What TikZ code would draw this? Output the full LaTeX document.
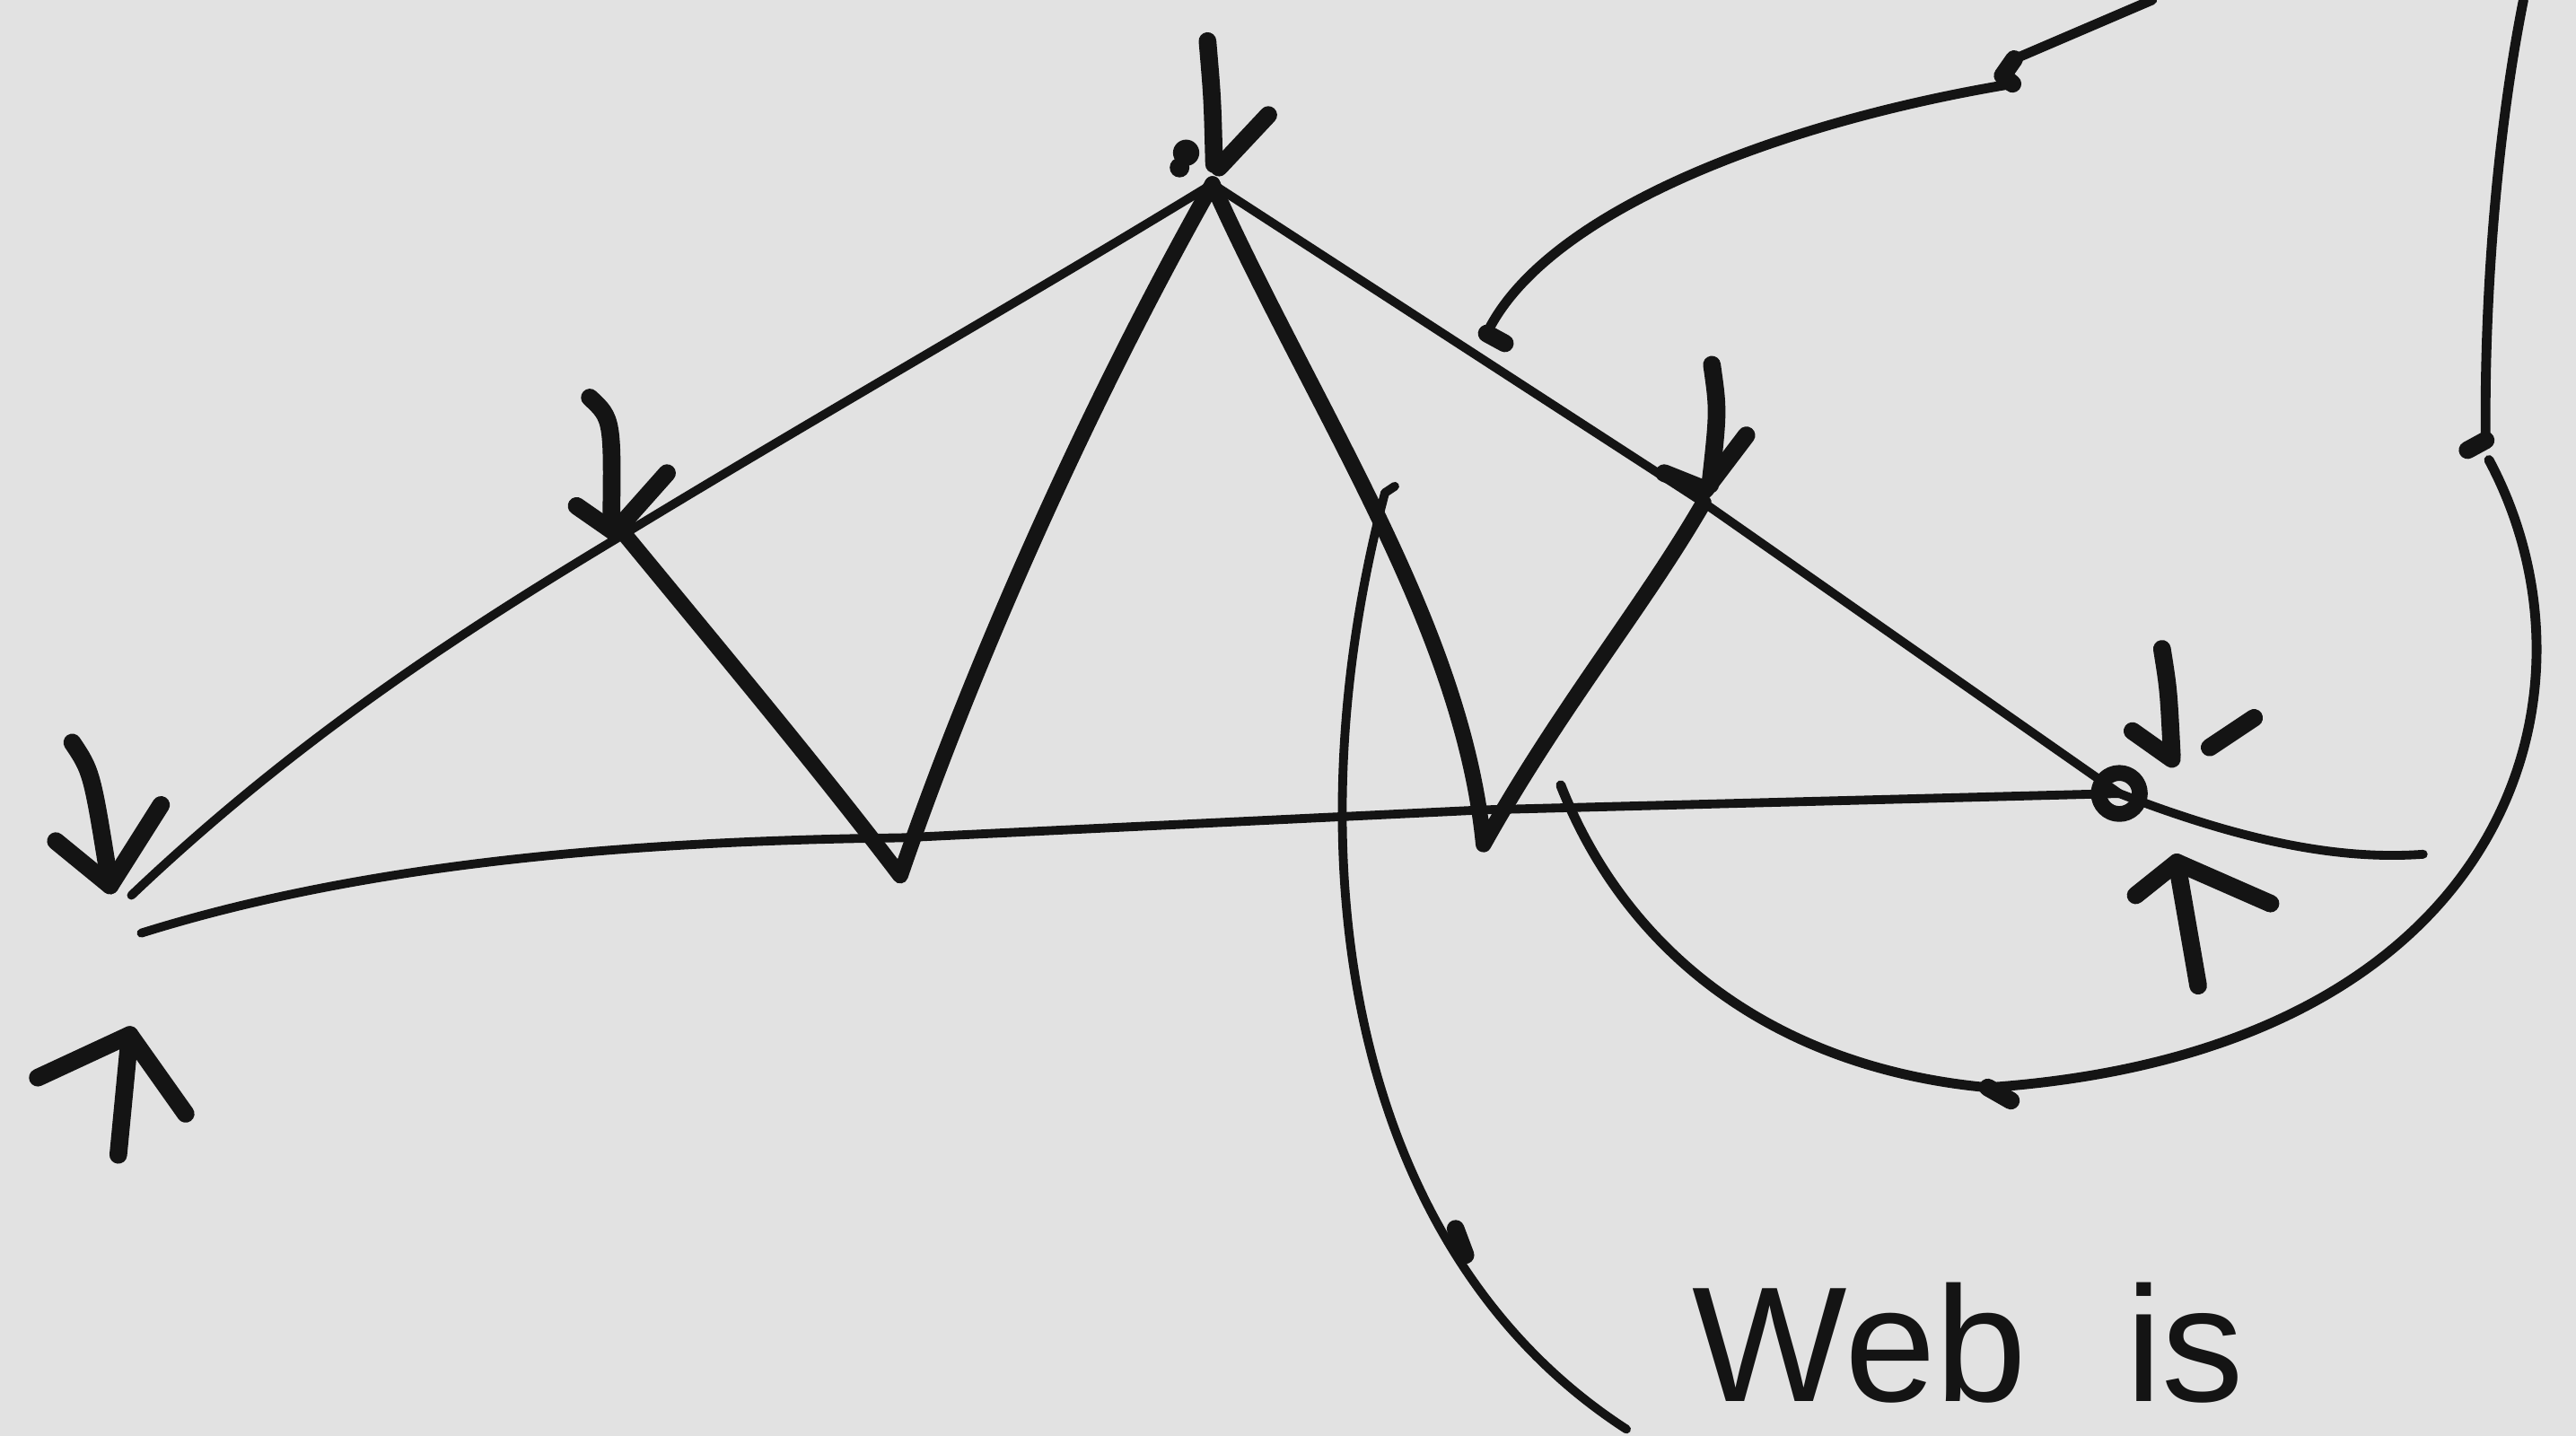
\documentclass[tikz,border=0pt]{standalone}
\usepackage{fontspec}
\setmainfont{Liberation Sans}
\usetikzlibrary{positioning}

\definecolor{paper}{RGB}{226,226,226}
\definecolor{ink}{RGB}{20,20,20}

\begin{document}
\begin{tikzpicture}[x=0.18304cm, y=-0.18304cm,
  strand/.style={draw=ink, line width=2.8pt, line cap=round, line join=round},
  spoke/.style={draw=ink, line width=5.0pt, line cap=round, line join=round},
  loop/.style={draw=ink, line width=3.1pt, line cap=round, line join=round},
  jot/.style={draw=ink, line width=5.6pt, line cap=round, line join=round},
  lab/.style={font=\fontsize{52}{56}\selectfont, text=ink, inner sep=0pt}
]
\fill[paper] (0,0) rectangle (156.8,87.4);
\useasboundingbox (0,0) rectangle (156.8,87.4);

\coordinate (L1) at (8.0,54.5);
\coordinate (L2) at (8.6,56.8);
\coordinate (A) at (38.0,32.5);
\coordinate (T) at (73.8,11.2);
\coordinate (V1) at (54.8,53.3);
\coordinate (V2) at (90.3,51.4);
\coordinate (v1b) at (54.8,51.0);
\coordinate (v2b) at (90.3,49.3);
\coordinate (B) at (103.7,30.6);
\coordinate (R) at (129.0,48.3);
\coordinate (Rtail) at (147.5,52.0);

% the frame
\draw[strand] (L1) .. controls (18,45) and (28,38.5) .. (A);
\draw[strand] (A) .. controls (50,25.2) and (62,18.4) .. (T);
\draw[strand] (L2) .. controls (22,52.6) and (38,51.2) .. (v1b) -- (v2b) -- (R);
\draw[strand] (T) -- (B) -- (R);
\draw[spoke] (A) .. controls (45,41) and (50,47) .. (V1) .. controls (59,41) and (66,25) .. (T);
\draw[spoke] (T) .. controls (80,25) and (89,38) .. (V2) .. controls (95,43) and (100,37) .. (B);
\draw[spoke] (R) circle (1.25);
\draw[strand] (R) .. controls (136,51) and (142,52.4) .. (Rtail);

% arrow marks
\draw[jot] (4.4,45.2) .. controls (5.6,47) .. (6.7,53.9);
\draw[jot] (3.4,51.2) -- (6.7,53.9) -- (9.8,49.0);
\draw[jot] (7.2,70.3) -- (7.9,63.0);
\draw[jot] (2.3,65.6) -- (7.9,63.0) -- (11.3,67.8);
\draw[jot] (35.9,24.2) .. controls (37.3,25.5) .. (37.2,32.2);
\draw[jot] (35.1,30.8) -- (37.4,32.4) -- (40.6,28.8);
\draw[jot] (73.5,2.5) .. controls (73.8,6) .. (73.9,10.0);
\draw[jot] (77.2,7.0) -- (74.2,10.2);
\fill[ink] (72.2,9.3) circle (0.8);
\fill[ink] (71.8,10.2) circle (0.6);
\draw[jot] (104.2,22.2) .. controls (104.6,25) .. (104.1,29.5);
\draw[jot] (101.3,28.8) -- (103.8,29.8) -- (106.3,26.5);
\draw[jot] (131.6,39.5) .. controls (132.0,42) .. (132.2,46.0);
\draw[jot] (129.8,44.5) -- (132.2,46.2);
\draw[jot] (134.5,45.5) -- (137.2,43.7);
\draw[jot] (133.8,60.0) -- (132.5,52.5);
\draw[jot] (130.0,54.5) -- (132.5,52.5) -- (138.2,55.0);

% the loops round the web
\coordinate (c1a) at (131.0,0);
\coordinate (c1b) at (122.6,3.6);
\coordinate (c1c) at (122.5,5.1);
\coordinate (c1d) at (90.5,20.3);
\coordinate (c2a) at (153.6,0);
\coordinate (c2b) at (151.3,26.8);
\coordinate (c2c) at (151.5,28.0);
\coordinate (c2d) at (121.0,66.2);
\coordinate (c3a) at (95.0,47.8);
\coordinate (c4a) at (84.3,30.0);
\coordinate (c4b) at (99.0,87.0);

\draw[loop] (c1a) -- (c1b);
\draw[jot] (c1b) -- (121.9,4.6) -- (c1c);
\draw[loop] (c1c) .. controls (108,7.5) and (94,13) .. (c1d);
\draw[jot] (c1d) -- (91.6,20.9);
\draw[loop] (c2a) .. controls (152.0,8) and (151.2,18) .. (c2b);
\draw[jot] (c2b) -- (150.2,27.4);
\draw[loop] (c2c) .. controls (159,42) and (153,64) .. (c2d);
\draw[loop] (c3a) .. controls (99,58) and (108,65) .. (c2d);
\draw[jot] (c2d) -- (122.4,67.0);
\draw[strand] (c4a) .. controls (78.5,52) and (82,76) .. (c4b);
\draw[strand] (c4a) -- (84.9,29.6);
\draw[jot] (88.6,74.8) -- (89.2,76.4);

\node[lab, anchor=base west] (web) at (103.0,85.3) {Web\hspace{1.1cm}is};
\end{tikzpicture}
\end{document}
